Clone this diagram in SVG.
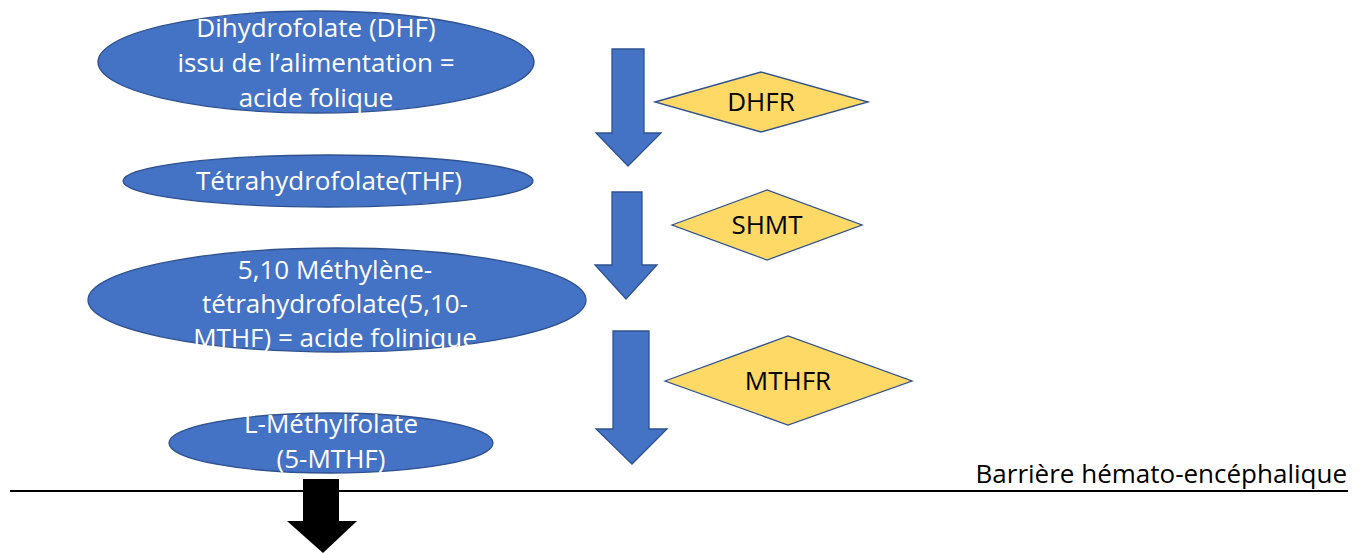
<svg xmlns="http://www.w3.org/2000/svg" width="1365" height="553" viewBox="0 0 1365 553">
<style>
.ell{fill:#4472C4;stroke:#2F528F;stroke-width:1.3}
.dia{fill:#FFD966;stroke:#2F528F;stroke-width:1.3}
.arr{fill:#4472C4;stroke:#2F528F;stroke-width:1.3}
.wt{font-family:"Open Sans","Liberation Sans",sans-serif;font-size:26px;fill:#ffffff;text-anchor:middle}
.bt{font-family:"Open Sans","Liberation Sans",sans-serif;font-size:26px;fill:#000000;text-anchor:middle}
</style>
<rect width="1365" height="553" fill="#ffffff"/>
<g id="node-dhf">
<ellipse class="ell" cx="316" cy="62" rx="218" ry="51"/>
<text class="wt" x="316" y="37">Dihydrofolate (DHF)</text>
<text class="wt" x="316" y="72">issu de l’alimentation =</text>
<text class="wt" x="316" y="107">acide folique</text>
</g>
<g id="node-thf">
<ellipse class="ell" cx="328" cy="181" rx="205" ry="26"/>
<text class="wt" x="329" y="190">Tétrahydrofolate(THF)</text>
</g>
<g id="node-mthf510">
<ellipse class="ell" cx="337" cy="300" rx="249" ry="52"/>
<text class="wt" x="335" y="279">5,10 Méthylène-</text>
<text class="wt" x="335" y="313">tétrahydrofolate(5,10-</text>
<text class="wt" x="335" y="347">MTHF) = acide folinique</text>
</g>
<g id="node-lmethyl">
<ellipse class="ell" cx="331" cy="443" rx="162" ry="30"/>
<text class="wt" x="331" y="433">L-Méthylfolate</text>
<text class="wt" x="331" y="468">(5-MTHF)</text>
</g>
<g id="node-dhfr">
<polygon class="dia" points="655,102 761,72 868,102 761,132"/>
<text class="bt" x="761" y="111">DHFR</text>
</g>
<g id="node-shmt">
<polygon class="dia" points="672,225 767,190 862,225 767,260"/>
<text class="bt" x="767" y="234">SHMT</text>
</g>
<g id="node-mthfr">
<polygon class="dia" points="665,381 788,336 912,381 788,425"/>
<text class="bt" x="788" y="390">MTHFR</text>
</g>
<g id="barrier">
<line x1="10" y1="491" x2="1348" y2="491" stroke="#000000" stroke-width="2.2"/>
<text x="1347" y="483" font-family="'Open Sans','Liberation Sans',sans-serif" font-size="26" fill="#000000" text-anchor="end">Barrière hémato-encéphalique</text>
</g>
<g id="connectors">
<polygon class="arr" points="612,49 644,49 644,133 661,133 628,166 596,133 612,133"/>
<polygon class="arr" points="612,192 642,192 642,265 657,265 626,299 595,265 612,265"/>
<polygon class="arr" points="613,331 649,331 649,429 667,429 632,464 596,429 613,429"/>
<polygon points="303,479 339,479 339,521 357,521 323,553 287,521 303,521" fill="#000000"/>
</g>
</svg>
